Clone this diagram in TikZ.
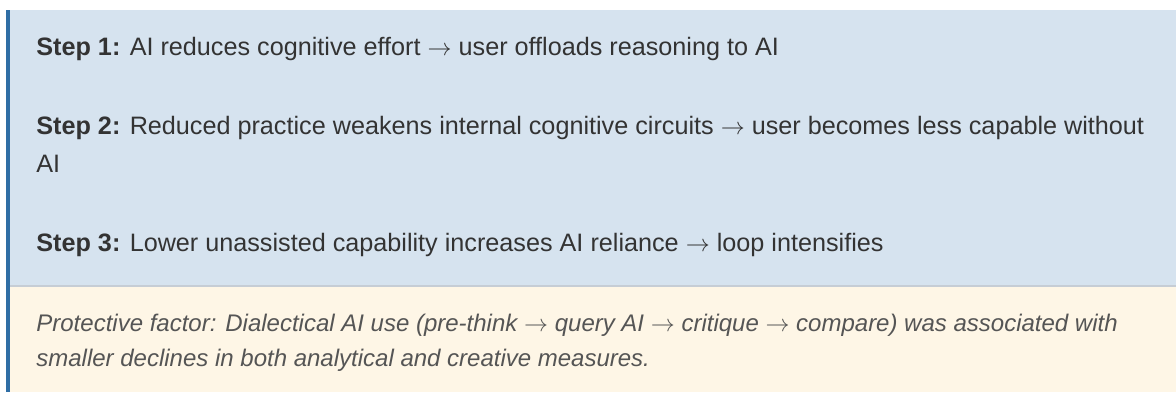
\documentclass[tikz,border=0pt]{standalone}
\usepackage{fontspec}
\setmainfont{Liberation Sans}
\usetikzlibrary{positioning}

\definecolor{stepblue}{HTML}{D6E3EF}
\definecolor{protcream}{HTML}{FEF6E6}
\definecolor{barblue}{HTML}{2F6EA5}
\definecolor{sepgray}{HTML}{C6CDD5}
\definecolor{textgray}{HTML}{333333}
\definecolor{protgray}{HTML}{555555}

\begin{document}
\begin{tikzpicture}[x=0.5pt,y=0.5pt]


% GLOBAL SETTINGS
\newcommand{\txtx}{36}
\newcommand{\arr}{\(\rightarrow\)}
\newcommand{\linegap}{38.5}
\newcommand{\protgap}{34.3}
\tikzset{
  steptext/.style={anchor=base west, inner sep=0pt, text=textgray,
    font=\fontsize{12.6}{15}\selectfont},
  prottext/.style={steptext, text=protgray,
    font=\fontsize{12}{14}\selectfont\itshape}
}

% BANDS
\useasboundingbox (0,0) rectangle (1176,392);
\fill[stepblue] (6,107) rectangle (1176,382);
\fill[protcream] (6,0) rectangle (1176,105.5);
\draw[sepgray, line width=0.75pt] (6,106.2) -- (1176,106.2);
\fill[barblue] (6,0) rectangle (10,382);

% STEPS
\node[steptext] (s1) at (\txtx,336) {\textbf{Step 1:} AI reduces cognitive effort \arr{} user offloads reasoning to AI};
\node[steptext] (s2a) at (\txtx,257.7) {\textbf{Step 2:} Reduced practice weakens internal cognitive circuits \arr{} user becomes less capable without};
\path (s2a.base west) +(0,-\linegap) node[steptext] (s2b) {AI};
\node[steptext] (s3) at (\txtx,140.3) {\textbf{Step 3:} Lower unassisted capability increases AI reliance \arr{} loop intensifies};

% PROTECTIVE FACTOR
\node[prottext] (p1) at (\txtx,60.3) {Protective factor: Dialectical AI use (pre-think \arr{} query AI \arr{} critique \arr{} compare) was associated with};
\path (p1.base west) +(0,-\protgap) node[prottext] (p2) {smaller declines in both analytical and creative measures.};

\end{tikzpicture}
\end{document}
